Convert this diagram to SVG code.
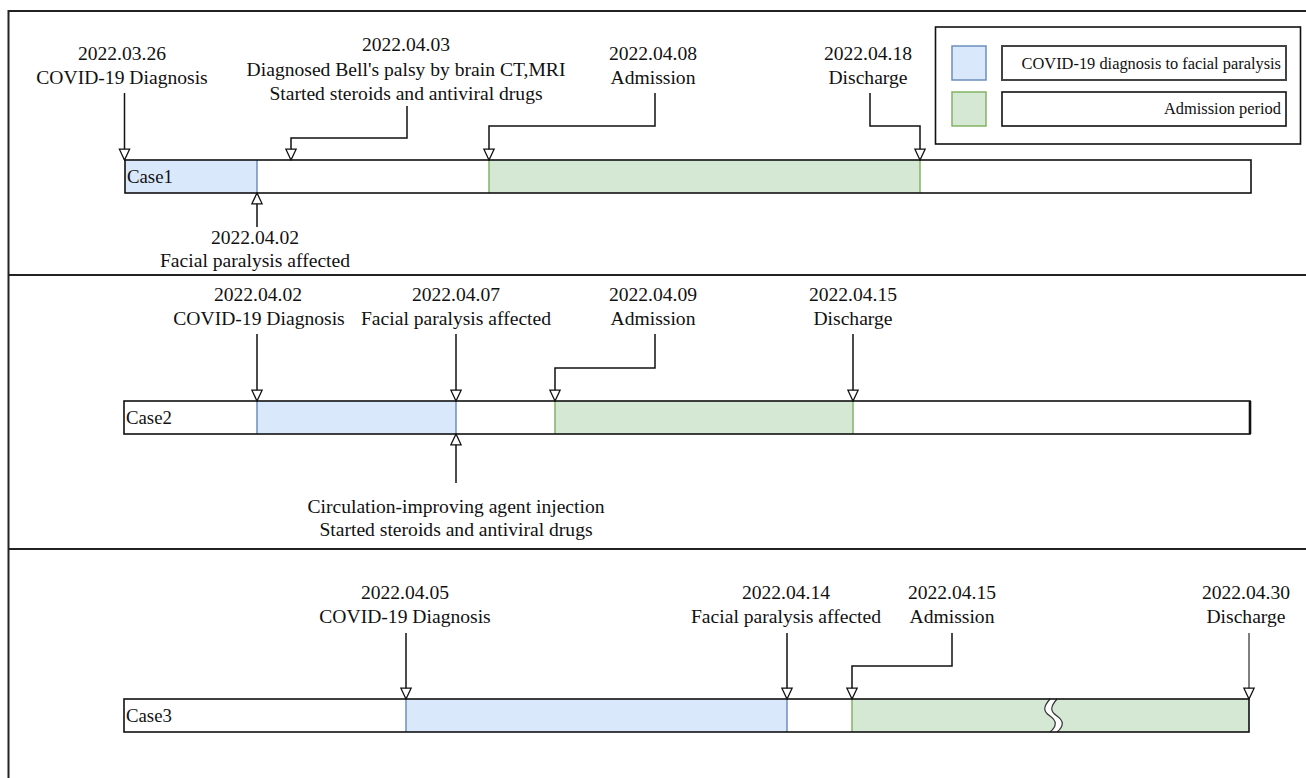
<svg xmlns="http://www.w3.org/2000/svg" width="1306" height="778" viewBox="0 0 1306 778">
<style>
  .t{font-family:"Liberation Serif","Times New Roman",serif;font-size:19.6px;fill:#111;text-anchor:middle}
  .lbl{font-family:"Liberation Serif","Times New Roman",serif;font-size:18.8px;fill:#111}
  .leg{font-family:"Liberation Serif","Times New Roman",serif;font-size:16.4px;fill:#111;text-anchor:end}
  .bar{fill:none;stroke:#111;stroke-width:1.6}
  .blue{fill:#dae8fc}
  .green{fill:#d5e8d4}
  .bedge{stroke:#6c8ebf;stroke-width:1.5}
  .gedge{stroke:#82b366;stroke-width:1.5}
  .frame{fill:none;stroke:#222;stroke-width:2}
  .conn{fill:none;stroke:#111;stroke-width:1.5;marker-end:url(#open)}
</style>
<defs>
  <marker id="open" viewBox="0 0 12 12" refX="11" refY="6" markerWidth="13" markerHeight="13" markerUnits="userSpaceOnUse" orient="auto">
    <path d="M1,1.3 L11,6 L1,10.7 Z" fill="#fff" stroke="#111" stroke-width="1.2"/>
  </marker>
</defs>
<rect width="1306" height="778" fill="#fff"/>
<g id="frame">
  <path class="frame" d="M1306,11 H8.5 V778"/>
  <line class="frame" x1="8" y1="275" x2="1306" y2="275"/>
  <line class="frame" x1="8" y1="549" x2="1306" y2="549"/>
</g>
<g id="legend">
  <rect x="935.5" y="27" width="365" height="117" fill="#fff" stroke="#111" stroke-width="1.6"/>
  <rect x="952" y="46" width="34" height="34" class="blue" stroke="#6c8ebf" stroke-width="1.5"/>
  <rect x="952" y="92" width="34" height="34" class="green" stroke="#82b366" stroke-width="1.5"/>
  <rect x="1002" y="46" width="284" height="34" fill="#fff" stroke="#444" stroke-width="2"/>
  <rect x="1002" y="92" width="284" height="34" fill="#fff" stroke="#111" stroke-width="1.6"/>
  <text class="leg" x="1281" y="69">COVID-19 diagnosis to facial paralysis</text>
  <text class="leg" x="1281" y="114">Admission period</text>
</g>
<g id="case1">
  <rect x="125" y="160" width="1126" height="33" fill="#fff"/>
  <rect x="125" y="160" width="132" height="33" class="blue"/>
  <line x1="257" y1="160" x2="257" y2="193" class="bedge"/>
  <rect x="489" y="160" width="431" height="33" class="green"/>
  <line x1="489" y1="160" x2="489" y2="193" class="gedge"/>
  <line x1="920" y1="160" x2="920" y2="193" class="gedge"/>
  <rect x="125" y="160" width="1126" height="33" class="bar"/>
  <text class="lbl" x="127" y="183">Case1</text>
  <text class="t" x="122" y="60">2022.03.26</text>
  <text class="t" x="122" y="84">COVID-19 Diagnosis</text>
  <text class="t" x="406" y="51">2022.04.03</text>
  <text class="t" x="406" y="76">Diagnosed Bell's palsy by brain CT,MRI</text>
  <text class="t" x="406" y="100">Started steroids and antiviral drugs</text>
  <text class="t" x="653" y="60">2022.04.08</text>
  <text class="t" x="653" y="84">Admission</text>
  <text class="t" x="868" y="60">2022.04.18</text>
  <text class="t" x="868" y="84">Discharge</text>
  <text class="t" x="255" y="244">2022.04.02</text>
  <text class="t" x="255" y="267">Facial paralysis affected</text>
</g>
<g id="case2">
  <rect x="124" y="401" width="1126" height="33" fill="#fff"/>
  <rect x="257" y="401" width="199" height="33" class="blue"/>
  <line x1="257" y1="401" x2="257" y2="434" class="bedge"/>
  <line x1="456" y1="401" x2="456" y2="434" class="bedge"/>
  <rect x="555" y="401" width="298" height="33" class="green"/>
  <line x1="555" y1="401" x2="555" y2="434" class="gedge"/>
  <line x1="853" y1="401" x2="853" y2="434" class="gedge"/>
  <rect x="124" y="401" width="1126" height="33" class="bar"/>
  <line x1="1250" y1="401" x2="1250" y2="434" stroke="#111" stroke-width="2.6"/>
  <text class="lbl" x="126" y="424">Case2</text>
  <text class="t" x="258" y="301">2022.04.02</text>
  <text class="t" x="259" y="325">COVID-19 Diagnosis</text>
  <text class="t" x="456" y="301">2022.04.07</text>
  <text class="t" x="456" y="325">Facial paralysis affected</text>
  <text class="t" x="653" y="301">2022.04.09</text>
  <text class="t" x="653" y="325">Admission</text>
  <text class="t" x="853" y="301">2022.04.15</text>
  <text class="t" x="853" y="325">Discharge</text>
  <text class="t" x="456" y="513">Circulation-improving agent injection</text>
  <text class="t" x="456" y="536">Started steroids and antiviral drugs</text>
</g>
<g id="case3">
  <rect x="124" y="699" width="1125" height="33" fill="#fff"/>
  <rect x="406" y="699" width="381" height="33" class="blue"/>
  <line x1="406" y1="699" x2="406" y2="732" class="bedge"/>
  <line x1="787" y1="699" x2="787" y2="732" class="bedge"/>
  <rect x="852" y="699" width="397" height="33" class="green"/>
  <line x1="852" y1="699" x2="852" y2="732" class="gedge"/>
  <path d="M1050,699 C1043,707 1043,711 1050,716 C1057,721 1057,726 1050,732 L1057,732 C1064,726 1064,721 1057,716 C1050,711 1050,707 1057,699 Z" fill="#fff"/>
  <path d="M1050,699 C1043,707 1043,711 1050,716 C1057,721 1057,726 1050,732 M1057,699 C1050,707 1050,711 1057,716 C1064,721 1064,726 1057,732" fill="none" stroke="#333" stroke-width="1.2"/>
  <rect x="124" y="699" width="1125" height="33" class="bar"/>
  <text class="lbl" x="126" y="722">Case3</text>
  <text class="t" x="405" y="599">2022.04.05</text>
  <text class="t" x="405" y="623">COVID-19 Diagnosis</text>
  <text class="t" x="786" y="599">2022.04.14</text>
  <text class="t" x="786" y="623">Facial paralysis affected</text>
  <text class="t" x="952" y="599">2022.04.15</text>
  <text class="t" x="952" y="623">Admission</text>
  <text class="t" x="1246" y="599">2022.04.30</text>
  <text class="t" x="1246" y="623">Discharge</text>
</g>
<g id="connectors">
  <path class="conn" d="M124.5,93 V160"/>
  <path class="conn" d="M407,106 V138 H291 V160"/>
  <path class="conn" d="M655,93 V126 H489 V160"/>
  <path class="conn" d="M870,93 V126 H920 V160"/>
  <path class="conn" d="M257,227 V193"/>
  <path class="conn" d="M257,334 V401"/>
  <path class="conn" d="M456,334 V401"/>
  <path class="conn" d="M655,334 V368 H555 V401"/>
  <path class="conn" d="M853,334 V401"/>
  <path class="conn" d="M456,483 V434"/>
  <path class="conn" d="M406,633 V699"/>
  <path class="conn" d="M787,633 V699"/>
  <path class="conn" d="M952,633 V666 H852 V699"/>
  <path class="conn" d="M1249,633 V699" style="stroke:#555"/>
</g>
</svg>
